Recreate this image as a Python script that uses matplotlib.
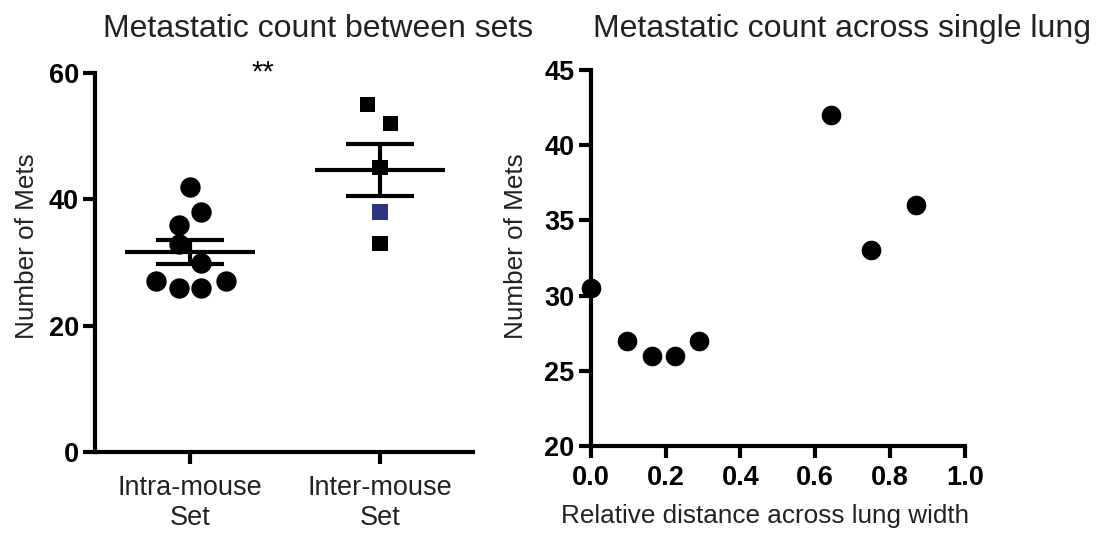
import matplotlib
matplotlib.use("Agg")
import matplotlib.pyplot as plt
import numpy as np

plt.rcParams['font.family'] = ['Liberation Sans', 'DejaVu Sans']

# ---- data ----
categories = ["Intra-mouse\nSet", "Inter-mouse\nSet"]
intra_values = [42, 38, 36, 33, 30, 27, 26, 26, 27]
inter_values = [55, 52, 45, 38, 33]
inter_colors = ["black", "black", "black", "#2b3580", "black"]
left_yticks = [0, 20, 40, 60]

distance = [0.0, 0.098, 0.163, 0.225, 0.29, 0.641, 0.748, 0.868]
mets = [30.5, 27, 26, 26, 27, 42, 33, 36]
right_xticks = [0.0, 0.2, 0.4, 0.6, 0.8, 1.0]
right_yticks = [20, 25, 30, 35, 40, 45]

# scatter layout (horizontal spread of points within a group)
intra_jitter = [0.0, 0.058, -0.056, -0.056, 0.058, -0.18, -0.058, 0.058, 0.188]
inter_jitter = [-0.065, 0.056, 0.0, 0.0, 0.0]

W, H = 1109, 535
fig = plt.figure(figsize=(W / 100, H / 100), dpi=100)

LW = 3.0
TICKFS = 19.5
LABFS = 18.8
CATFS = 18.2
TITLEFS = 23

def style(ax):
    for s in ["top", "right"]:
        ax.spines[s].set_visible(False)
    for s in ["left", "bottom"]:
        ax.spines[s].set_linewidth(LW)
    ax.tick_params(width=LW, length=8.5, labelsize=TICKFS, pad=3)
    for lab in ax.get_yticklabels():
        lab.set_fontweight("bold")

# ---- left panel ----
ax1 = fig.add_axes([95 / W, 83 / H, 378 / W, 379 / H])
x0 = np.array(intra_jitter) + 0
x1 = np.array(inter_jitter) + 1
ax1.scatter(x0, intra_values, s=215, marker="o", color="black", zorder=2,
            linewidths=0)
ax1.scatter(x1, inter_values, s=120, marker="s", color=inter_colors, zorder=2,
            linewidths=0)

for pos, vals in [(0, intra_values), (1, inter_values)]:
    v = np.array(vals, dtype=float)
    m = v.mean()
    sem = v.std(ddof=1) / np.sqrt(len(v))
    ax1.hlines(m, pos - 0.34, pos + 0.34, color="black", lw=LW, zorder=3)
    ax1.hlines([m - sem, m + sem], pos - 0.18, pos + 0.18, color="black",
               lw=LW, zorder=3)
    ax1.vlines(pos, m - sem, m + sem, color="black", lw=LW, zorder=3)

ax1.set_xlim(-0.5, 1.49)
ax1.set_ylim(0, 60)
ax1.set_yticks(left_yticks)
ax1.set_xticks([0, 1])
ax1.set_xticklabels(categories, fontsize=CATFS, color="#222222",
                    linespacing=1.2)
style(ax1)
ax1.tick_params(axis="x", pad=8)
ax1.set_ylabel("Number of Mets", fontsize=LABFS, color="#222222")
ax1.yaxis.set_label_coords(-0.147, 0.5435)
ax1.text(0.384, 60.1, "**", fontsize=21, ha="center", va="center",
         clip_on=False)
fig.text(318 / W, 1 - 29 / H, "Metastatic count between sets", fontsize=TITLEFS,
         ha="center", va="center", color="#222222")

# ---- right panel ----
ax2 = fig.add_axes([590.7 / W, 89 / H, 374.3 / W, 376 / H])
ax2.scatter(distance, mets, s=200, marker="o", color="black", zorder=3,
            linewidths=0, clip_on=False)
ax2.set_xlim(0, 1.0)
ax2.set_ylim(20, 45)
ax2.set_xticks(right_xticks)
ax2.set_xticklabels([f"{t:.1f}" for t in right_xticks], fontweight="bold")
ax2.set_yticks(right_yticks)
style(ax2)
ax2.tick_params(axis="x", pad=5)
ax2.set_ylabel("Number of Mets", fontsize=LABFS, color="#222222")
ax2.yaxis.set_label_coords(-0.167, 0.532)
ax2.set_xlabel("Relative distance across lung width", fontsize=LABFS,
               color="#222222")
ax2.xaxis.set_label_coords((765 - 590.7) / 374.3, -0.155)
fig.text(842 / W, 1 - 29 / H, "Metastatic count across single lung",
         fontsize=TITLEFS, ha="center", va="center", color="#222222")

fig.savefig("out.png", dpi=100)
